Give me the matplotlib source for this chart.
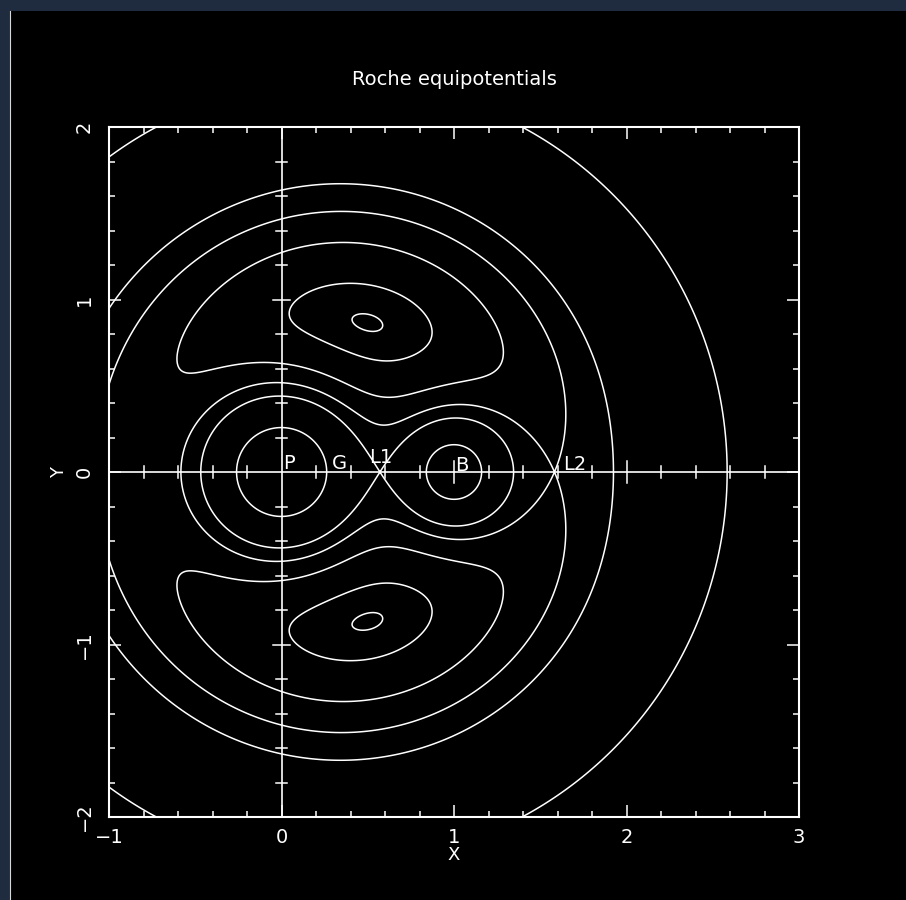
import numpy as np
import matplotlib
matplotlib.use("Agg")
import matplotlib.pyplot as plt
from matplotlib.ticker import MultipleLocator
from matplotlib.patches import Rectangle

# ---- binary parameters and drawn levels ----
mass_ratio = 0.5                      # q = M_B / M_P, separation = 1
fixed_levels = [-3.0, -1.595, -1.44, -1.3915]   # extra equipotential values
x_ticks = [-1, 0, 1, 2, 3]
x_tick_labels = ["\u22121", "0", "1", "2", "3"]
y_ticks = [-2, -1, 0, 1, 2]
y_tick_labels = ["\u22122", "\u22121", "0", "1", "2"]
title_text = "Roche equipotentials"

mu2 = mass_ratio / (1.0 + mass_ratio)
mu1 = 1.0 - mu2
x_cm = mu2


def roche(x, y):
    r1 = np.maximum(np.hypot(x, y), 1e-9)
    r2 = np.maximum(np.hypot(x - 1.0, y), 1e-9)
    return -mu1 / r1 - mu2 / r2 - 0.5 * ((x - x_cm) ** 2 + y ** 2)


def dphidx(x):
    return (mu1 * x / abs(x) ** 3 + mu2 * (x - 1.0) / abs(x - 1.0) ** 3
            - (x - x_cm))


def bisect(f, a, b, n=200):
    fa = f(a)
    for _ in range(n):
        m = 0.5 * (a + b)
        fm = f(m)
        if np.sign(fm) == np.sign(fa):
            a, fa = m, fm
        else:
            b = m
    return 0.5 * (a + b)


x_L1 = bisect(dphidx, 0.05, 0.95)
x_L2 = bisect(dphidx, 1.05, 3.0)
levels = sorted(fixed_levels + [roche(x_L1, 0.0), roche(x_L2, 0.0)])

xg = np.linspace(-1, 3, 2000)
yg = np.linspace(-2, 2, 2000)
X, Y = np.meshgrid(xg, yg)
P = roche(X, Y)

W, H = 906, 900
fig = plt.figure(figsize=(W / 100, H / 100), dpi=100)
fig.patch.set_facecolor("#1f2b3f")

# black drawing surface with a thin light edge on its left
bg = fig.add_axes([0, 0, 1, 1], zorder=-5)
bg.set_xlim(0, W)
bg.set_ylim(0, H)
bg.axis("off")
bg.add_patch(Rectangle((10, 0), W - 10, 889, facecolor="black", edgecolor="none"))
bg.plot([9.5, 9.5], [0, 889], color="#d8d8d8", lw=0.8)

ax = fig.add_axes([109 / W, 83 / H, 690 / W, 690 / H])
ax.set_facecolor("black")
ax.contour(X, Y, P, levels=levels, colors="white", linewidths=1.1,
           linestyles="solid")

ax.set_xlim(-1, 3)
ax.set_ylim(-2, 2)

# zero axes with their own ticks
ax.axhline(0, color="white", lw=1.2)
ax.axvline(0, color="white", lw=1.2)
for t in np.round(np.arange(-1, 3.001, 0.2), 1):
    if abs(t) < 1e-9:
        continue
    h = 0.062 if abs(t - round(t)) < 1e-9 else 0.034
    ax.plot([t, t], [-h, h], color="white", lw=1.1)
for t in np.round(np.arange(-2, 2.001, 0.2), 1):
    if abs(t) < 1e-9:
        continue
    h = 0.05 if abs(t - round(t)) < 1e-9 else 0.03
    ax.plot([-h, h], [t, t], color="white", lw=1.1)

# point labels
fs = 14
off = 0.72
ax.annotate("P", (0.0, 0.0), xytext=(2 * off, 3 * off), textcoords="offset points",
            color="white", fontsize=fs, ha="left", va="baseline")
ax.annotate("G", (x_cm, 0.0), xytext=(-7 * off, 3 * off), textcoords="offset points",
            color="white", fontsize=fs, ha="left", va="baseline")
ax.annotate("L1", (x_L1, 0.0), xytext=(-11 * off, 9 * off), textcoords="offset points",
            color="white", fontsize=fs, ha="left", va="baseline")
ax.annotate("B", (1.0, 0.0), xytext=(1 * off, 1 * off), textcoords="offset points",
            color="white", fontsize=fs, ha="left", va="baseline")
ax.annotate("L2", (x_L2, 0.0), xytext=(9 * off, 2 * off), textcoords="offset points",
            color="white", fontsize=fs, ha="left", va="baseline")

ax.set_xticks(x_ticks)
ax.set_xticklabels(x_tick_labels)
ax.set_yticks(y_ticks)
ax.set_yticklabels(y_tick_labels, rotation=90, va="center")
ax.xaxis.set_minor_locator(MultipleLocator(0.2))
ax.yaxis.set_minor_locator(MultipleLocator(0.2))
ax.tick_params(which="both", direction="in", top=True, right=True,
               colors="white", labelsize=14, width=1.1)
ax.tick_params(which="major", length=8.5)
ax.tick_params(which="minor", length=4.3)
ax.tick_params(axis="x", which="major", pad=8)
ax.tick_params(axis="y", which="major", pad=11)
for s in ax.spines.values():
    s.set_color("white")
    s.set_linewidth(1.5)

ax.set_xlabel("X", color="white", fontsize=13, labelpad=-1)
ax.set_ylabel("Y", color="white", fontsize=13, labelpad=5)
ax.set_title(title_text, color="white", fontsize=14, pad=30)

fig.savefig("out.png", dpi=100, facecolor=fig.get_facecolor())
